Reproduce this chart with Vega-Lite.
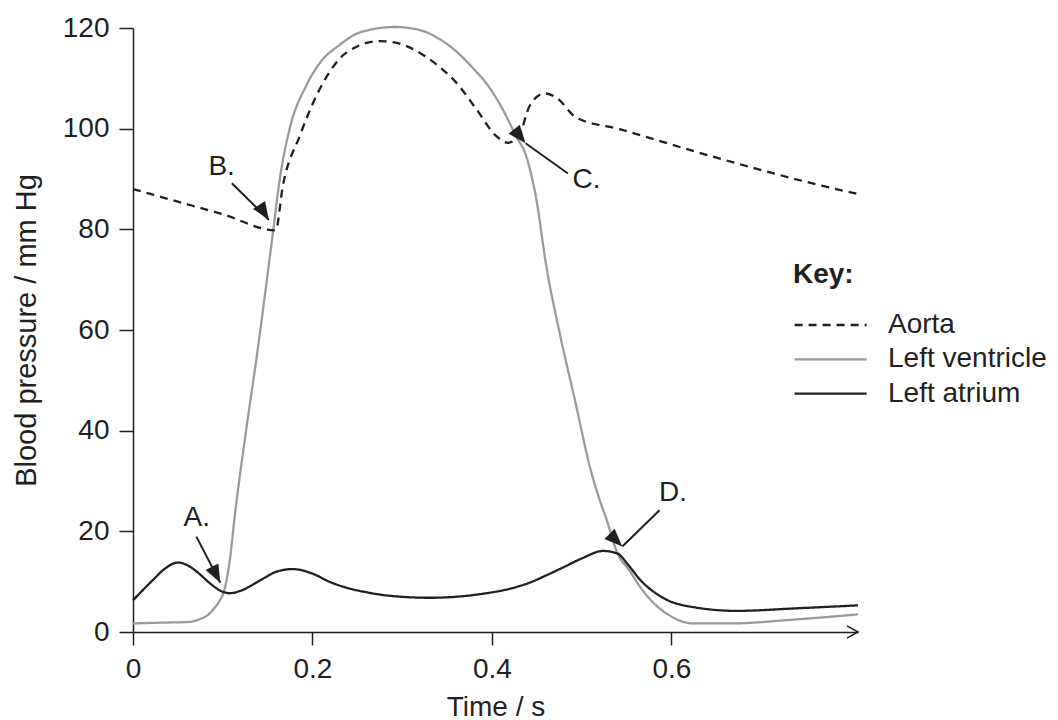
{
  "$schema": "https://vega.github.io/schema/vega-lite/v6.json",
  "width": 725,
  "height": 604,
  "autosize": {"type": "none"},
  "padding": {"left": 133, "top": 28, "right": 200, "bottom": 88},
  "background": "white",
  "config": {
    "view": {"stroke": null},
    "font": "Liberation Sans",
    "axis": {"grid": false, "domainColor": "#231f20", "tickColor": "#231f20", "labelColor": "#231f20", "titleColor": "#231f20", "domainWidth": 1.5, "tickWidth": 1.5, "labelFont": "Liberation Sans", "titleFont": "Liberation Sans", "titleFontWeight": "normal", "labelFlush": false, "labelOverlap": false}
  },
  "datasets": {
    "curves": [
      {"series": "Left ventricle", "t": 0, "p": 1.7},
      {"series": "Left ventricle", "t": 0.03, "p": 1.85},
      {"series": "Left ventricle", "t": 0.063, "p": 2.0},
      {"series": "Left ventricle", "t": 0.075, "p": 2.6},
      {"series": "Left ventricle", "t": 0.082, "p": 3.2},
      {"series": "Left ventricle", "t": 0.09, "p": 4.6},
      {"series": "Left ventricle", "t": 0.095, "p": 5.8},
      {"series": "Left ventricle", "t": 0.102, "p": 8.5},
      {"series": "Left ventricle", "t": 0.108, "p": 14.4},
      {"series": "Left ventricle", "t": 0.113, "p": 22.4},
      {"series": "Left ventricle", "t": 0.126, "p": 40},
      {"series": "Left ventricle", "t": 0.1375, "p": 54.2},
      {"series": "Left ventricle", "t": 0.156, "p": 79.4},
      {"series": "Left ventricle", "t": 0.1635, "p": 89.9},
      {"series": "Left ventricle", "t": 0.1746, "p": 100.0},
      {"series": "Left ventricle", "t": 0.193, "p": 108.5},
      {"series": "Left ventricle", "t": 0.208, "p": 113},
      {"series": "Left ventricle", "t": 0.23, "p": 116.6},
      {"series": "Left ventricle", "t": 0.2526, "p": 119.1},
      {"series": "Left ventricle", "t": 0.2916, "p": 120.2},
      {"series": "Left ventricle", "t": 0.3194, "p": 119.6},
      {"series": "Left ventricle", "t": 0.3417, "p": 117.8},
      {"series": "Left ventricle", "t": 0.36, "p": 115.4},
      {"series": "Left ventricle", "t": 0.379, "p": 112},
      {"series": "Left ventricle", "t": 0.3938, "p": 109.0},
      {"series": "Left ventricle", "t": 0.41, "p": 104.5},
      {"series": "Left ventricle", "t": 0.427, "p": 98.5},
      {"series": "Left ventricle", "t": 0.4383, "p": 94.5},
      {"series": "Left ventricle", "t": 0.4495, "p": 86},
      {"series": "Left ventricle", "t": 0.4606, "p": 72.7},
      {"series": "Left ventricle", "t": 0.4754, "p": 59.5},
      {"series": "Left ventricle", "t": 0.494, "p": 44.9},
      {"series": "Left ventricle", "t": 0.5089, "p": 33.0},
      {"series": "Left ventricle", "t": 0.5198, "p": 26.4},
      {"series": "Left ventricle", "t": 0.5275, "p": 22.5},
      {"series": "Left ventricle", "t": 0.54, "p": 15.6},
      {"series": "Left ventricle", "t": 0.553, "p": 12.3},
      {"series": "Left ventricle", "t": 0.565, "p": 9},
      {"series": "Left ventricle", "t": 0.58, "p": 5.8},
      {"series": "Left ventricle", "t": 0.598, "p": 3.3},
      {"series": "Left ventricle", "t": 0.624, "p": 1.7},
      {"series": "Left ventricle", "t": 0.665, "p": 1.7},
      {"series": "Left ventricle", "t": 0.739, "p": 2.5},
      {"series": "Left ventricle", "t": 0.808, "p": 3.5},

      {"series": "Aorta", "t": 0, "p": 88.0},
      {"series": "Aorta", "t": 0.05, "p": 85.5},
      {"series": "Aorta", "t": 0.1, "p": 83.0},
      {"series": "Aorta", "t": 0.159, "p": 79.8},
      {"series": "Aorta", "t": 0.167, "p": 88.6},
      {"series": "Aorta", "t": 0.1857, "p": 98.5},
      {"series": "Aorta", "t": 0.2043, "p": 106.5},
      {"series": "Aorta", "t": 0.22, "p": 111.5},
      {"series": "Aorta", "t": 0.2378, "p": 115.1},
      {"series": "Aorta", "t": 0.2749, "p": 117.4},
      {"series": "Aorta", "t": 0.2897, "p": 117.2},
      {"series": "Aorta", "t": 0.3194, "p": 115.1},
      {"series": "Aorta", "t": 0.34, "p": 112.5},
      {"series": "Aorta", "t": 0.36, "p": 109.2},
      {"series": "Aorta", "t": 0.3826, "p": 103.9},
      {"series": "Aorta", "t": 0.405, "p": 98.5},
      {"series": "Aorta", "t": 0.418, "p": 97.2},
      {"series": "Aorta", "t": 0.431, "p": 98.9},
      {"series": "Aorta", "t": 0.442, "p": 104.5},
      {"series": "Aorta", "t": 0.4587, "p": 107.0},
      {"series": "Aorta", "t": 0.4717, "p": 106.2},
      {"series": "Aorta", "t": 0.494, "p": 102.2},
      {"series": "Aorta", "t": 0.5423, "p": 99.9},
      {"series": "Aorta", "t": 0.6314, "p": 95.2},
      {"series": "Aorta", "t": 0.7614, "p": 88.95},
      {"series": "Aorta", "t": 0.808, "p": 87.0},

      {"series": "Left atrium", "t": 0, "p": 6.3},
      {"series": "Left atrium", "t": 0.022, "p": 10.3},
      {"series": "Left atrium", "t": 0.035, "p": 12.5},
      {"series": "Left atrium", "t": 0.05, "p": 13.8},
      {"series": "Left atrium", "t": 0.065, "p": 12.8},
      {"series": "Left atrium", "t": 0.0743, "p": 11.5},
      {"series": "Left atrium", "t": 0.085, "p": 9.8},
      {"series": "Left atrium", "t": 0.0985, "p": 8.1},
      {"series": "Left atrium", "t": 0.108, "p": 7.7},
      {"series": "Left atrium", "t": 0.12, "p": 8.2},
      {"series": "Left atrium", "t": 0.145, "p": 10.6},
      {"series": "Left atrium", "t": 0.16, "p": 12.0},
      {"series": "Left atrium", "t": 0.178, "p": 12.5},
      {"series": "Left atrium", "t": 0.2, "p": 11.6},
      {"series": "Left atrium", "t": 0.22, "p": 9.9},
      {"series": "Left atrium", "t": 0.238, "p": 8.8},
      {"series": "Left atrium", "t": 0.26, "p": 7.9},
      {"series": "Left atrium", "t": 0.286, "p": 7.2},
      {"series": "Left atrium", "t": 0.331, "p": 6.8},
      {"series": "Left atrium", "t": 0.386, "p": 7.5},
      {"series": "Left atrium", "t": 0.42, "p": 8.6},
      {"series": "Left atrium", "t": 0.442, "p": 9.8},
      {"series": "Left atrium", "t": 0.46, "p": 11.2},
      {"series": "Left atrium", "t": 0.479, "p": 12.8},
      {"series": "Left atrium", "t": 0.5, "p": 14.6},
      {"series": "Left atrium", "t": 0.524, "p": 16.1},
      {"series": "Left atrium", "t": 0.54, "p": 15.6},
      {"series": "Left atrium", "t": 0.552, "p": 13.3},
      {"series": "Left atrium", "t": 0.5646, "p": 10.5},
      {"series": "Left atrium", "t": 0.5906, "p": 6.8},
      {"series": "Left atrium", "t": 0.6277, "p": 4.85},
      {"series": "Left atrium", "t": 0.6723, "p": 4.2},
      {"series": "Left atrium", "t": 0.739, "p": 4.7},
      {"series": "Left atrium", "t": 0.808, "p": 5.3}
    ],
    "notes": [
      {"label": "A.", "lx": 0.071, "ly": 22.7, "tx": 0.0706, "ty": 18.95, "hx": 0.0973, "hy": 9.8},
      {"label": "B.", "lx": 0.0988, "ly": 92.3, "tx": 0.1102, "ty": 89.15, "hx": 0.1515, "hy": 81.86},
      {"label": "C.", "lx": 0.5055, "ly": 89.9, "tx": 0.4847, "ty": 91.1, "hx": 0.4375, "hy": 97.1},
      {"label": "D.", "lx": 0.6019, "ly": 27.7, "tx": 0.5868, "ty": 24.2, "hx": 0.5453, "hy": 16.97}
    ],
    "axisEnd": [
      {"t": 0.808, "p": 0}
    ]
  },
  "layer": [
    {
      "data": {"name": "curves"},
      "mark": {"type": "line", "interpolate": "monotone", "strokeWidth": 2.3},
      "encoding": {
        "x": {
          "field": "t", "type": "quantitative",
          "scale": {"domain": [0, 0.808], "nice": false, "zero": false},
          "axis": {"values": [0, 0.2, 0.4, 0.6], "format": "~g", "title": "Time / s", "titleFontSize": 28, "labelFontSize": 28, "tickSize": 13, "labelPadding": 10, "titlePadding": 10}
        },
        "y": {
          "field": "p", "type": "quantitative",
          "scale": {"domain": [0, 120], "nice": false},
          "axis": {"values": [0, 20, 40, 60, 80, 100, 120], "title": "Blood pressure / mm Hg", "titleFontSize": 29, "labelFontSize": 28, "tickSize": 14, "labelPadding": 10, "titlePadding": 21}
        },
        "color": {
          "field": "series", "type": "nominal",
          "scale": {"domain": ["Aorta", "Left ventricle", "Left atrium"], "range": ["#231f20", "#9a9a9a", "#231f20"]},
          "legend": {"title": "Key:", "orient": "none", "legendX": 660, "legendY": 233, "padding": 0, "titleFontSize": 28, "titleFontWeight": "bold", "titleColor": "#231f20", "labelFontSize": 28, "labelColor": "#231f20", "symbolType": "M-1,0L4,0", "symbolSize": 830, "symbolStrokeWidth": 2.3, "rowPadding": 4.3, "titlePadding": 20, "labelOffset": 63}
        },
        "strokeDash": {
          "field": "series", "type": "nominal",
          "scale": {"domain": ["Aorta", "Left ventricle", "Left atrium"], "range": [[8, 6], [1, 0], [1, 0]]},
          "legend": {"title": "Key:", "orient": "none", "legendX": 660, "legendY": 233, "padding": 0, "titleFontSize": 28, "titleFontWeight": "bold", "titleColor": "#231f20", "labelFontSize": 28, "labelColor": "#231f20", "symbolType": "M-1,0L4,0", "symbolSize": 830, "symbolStrokeWidth": 2.3, "rowPadding": 4.3, "titlePadding": 20, "labelOffset": 63}
        }
      }
    },
    {
      "data": {"name": "notes"},
      "mark": {"type": "rule", "strokeWidth": 2, "color": "#231f20"},
      "encoding": {
        "x": {"field": "tx", "type": "quantitative"},
        "y": {"field": "ty", "type": "quantitative"},
        "x2": {"field": "hx"},
        "y2": {"field": "hy"}
      }
    },
    {
      "data": {"name": "notes"},
      "mark": {"type": "point", "shape": "M0,0L-0.4,1L0.4,1Z", "filled": true, "size": 1296, "color": "#231f20", "opacity": 1},
      "encoding": {
        "x": {"field": "hx", "type": "quantitative"},
        "y": {"field": "hy", "type": "quantitative"},
        "angle": {"field": "label", "type": "nominal", "scale": {"domain": ["A.", "B.", "C.", "D."], "range": [152.4, 135, 305.4, 225.5]}, "legend": null}
      }
    },
    {
      "data": {"name": "notes"},
      "mark": {"type": "text", "fontSize": 28, "font": "Liberation Sans", "color": "#231f20", "align": "center", "baseline": "middle"},
      "encoding": {
        "x": {"field": "lx", "type": "quantitative"},
        "y": {"field": "ly", "type": "quantitative"},
        "text": {"field": "label"}
      }
    },
    {
      "data": {"name": "axisEnd"},
      "mark": {"type": "point", "shape": "M-1,-0.55L0,0L-1,0.55", "filled": false, "size": 484, "color": "#231f20", "strokeWidth": 1.5, "opacity": 1},
      "encoding": {
        "x": {"field": "t", "type": "quantitative"},
        "y": {"field": "p", "type": "quantitative"}
      }
    }
  ]
}
